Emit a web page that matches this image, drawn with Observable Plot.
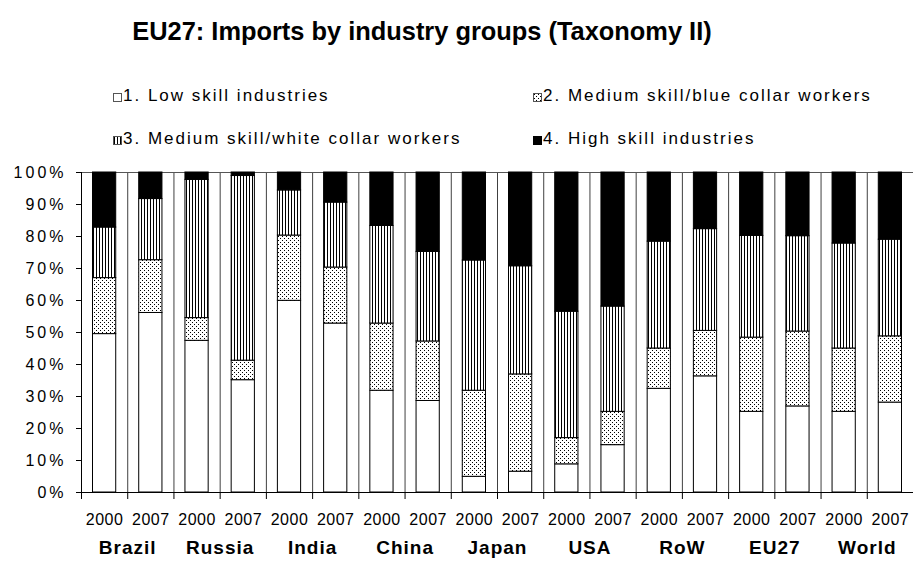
<!DOCTYPE html>
<html>
<head>
<meta charset="utf-8">
<script src="https://cdn.jsdelivr.net/npm/d3@7"></script>
<script src="https://cdn.jsdelivr.net/npm/@observablehq/plot@0.6"></script>
<style>
  body { margin: 0; background: #fff; font-family: "Liberation Sans", Arial, sans-serif; }
  svg { display: block; }
</style>
</head>
<body>
<svg width="0" height="0" style="position:absolute">
  <defs>
    <pattern id="dots" patternUnits="userSpaceOnUse" width="4" height="4">
      <rect width="4" height="4" fill="white"/>
      <rect x="0" y="0" width="1" height="1" fill="black"/>
      <rect x="2" y="2" width="1" height="1" fill="black"/>
    </pattern>
    <pattern id="vlines" patternUnits="userSpaceOnUse" width="3" height="3">
      <rect width="3" height="3" fill="white"/>
      <rect x="0" y="0" width="1" height="3" fill="black"/>
    </pattern>
  </defs>
</svg>
<div id="chart"></div>
<script>
// ---- data ----
const title = "EU27: Imports by industry groups (Taxonomy II)";
const countries = ["Brazil", "Russia", "India", "China", "Japan", "USA", "RoW", "EU27", "World"];
const years = ["2000", "2007"];
const groups = [
  "1. Low skill industries",
  "2. Medium skill/blue collar workers",
  "3. Medium skill/white collar workers",
  "4. High skill industries"
];
// one value per bar: Brazil 2000, Brazil 2007, Russia 2000, ... World 2007 (shares in %)
const lowSkill    = [49.5, 56.1, 47.4, 35.1, 59.9, 52.8, 31.8, 28.6,  4.9,  6.5,  8.8, 14.8, 32.4, 36.3, 25.2, 26.9, 25.2, 28.1];
const mediumBlue  = [17.5, 16.5,  7.1,  6.1, 20.4, 17.5, 21.0, 18.6, 26.9, 30.4,  8.2, 10.4, 12.6, 14.2, 23.2, 23.4, 19.8, 20.7];
const mediumWhite = [15.8, 19.1, 43.2, 57.7, 14.1, 20.3, 30.5, 28.0, 40.7, 33.8, 39.5, 32.9, 33.4, 31.8, 31.8, 29.8, 32.8, 30.2];
const highSkill   = [17.2,  8.3,  2.3,  1.1,  5.6,  9.4, 16.7, 24.8, 27.5, 29.3, 43.5, 41.9, 21.6, 17.7, 19.8, 19.9, 22.2, 21.0];
const yTicks = [0, 10, 20, 30, 40, 50, 60, 70, 80, 90, 100];
const groupFills = ["white", "url(#dots)", "url(#vlines)", "black"];

// ---- table built from the arrays ----
const seriesValues = [lowSkill, mediumBlue, mediumWhite, highSkill];
const bars = countries.flatMap((c, ci) => years.map((y, yi) => ({country: c, year: y, slot: ci * 2 + yi})));
const rows = bars.flatMap(b => groups.map((g, gi) => ({
  slot: b.slot, country: b.country, year: b.year, group: g, value: seriesValues[gi][b.slot]
})));

const FONT = "'Liberation Sans', Arial, Helvetica, sans-serif";
const chart = document.getElementById("chart");

// ---- header: title + legend ----
const header = d3.create("svg").attr("width", 913).attr("height", 150)
  .style("font-family", FONT);
header.append("text").attr("x", 422).attr("y", 40).attr("text-anchor", "middle")
  .attr("font-size", 25.4).attr("font-weight", "bold").text(title);
const legendPos = [[113, 93], [533, 93], [113, 136], [533, 136]];
groups.forEach((g, i) => {
  const [lx, ly] = legendPos[i];
  header.append("rect").attr("x", lx + 0.5).attr("y", ly + 0.5).attr("width", 8).attr("height", 8)
    .attr("fill", groupFills[i]).attr("stroke", i === 3 ? "black" : "#555").attr("stroke-width", 1);
  header.append("text").attr("x", lx + 10).attr("y", ly + 7.5).attr("font-size", 17)
    .attr("letter-spacing", 2).text(g);
});
chart.appendChild(header.node());

// ---- plot ----
const plot = Plot.plot({
  width: 913,
  height: 412,
  marginLeft: 81,
  marginRight: 0,
  marginTop: 22,
  marginBottom: 70,
  style: {fontFamily: FONT, fontSize: "16px", color: "black", background: "white", overflow: "visible"},
  x: {domain: [0, 18], axis: null, label: null},
  y: {domain: [0, 100], axis: null, label: null},
  color: {domain: groups, range: groupFills},
  marks: [
    Plot.ruleX(d3.range(1, 18), {stroke: "#404040", strokeWidth: 1}),
    Plot.ruleY([100], {stroke: "#555"}),
    Plot.rectY(rows, {
      x1: "slot", x2: d => d.slot + 1, y: "value", fill: "group",
      stroke: "black", strokeWidth: 1, insetLeft: 11.5, insetRight: 11.5
    }),
    Plot.axisY(yTicks, {tickSize: 5, tickPadding: 10, tickFormat: d => d + "%", fontSize: 16, label: null}),
    Plot.axisX(d3.range(0, 19), {tickSize: 7, tickFormat: () => "", label: null}),
    Plot.axisX(d3.range(18).map(i => i + 0.5), {
      tickSize: 0, tickPadding: 21, fontSize: 16, label: null,
      tickFormat: v => years[Math.floor(v) % 2]
    }),
    Plot.text(countries, {
      x: (d, i) => 2 * i + 1, frameAnchor: "bottom", dy: 61,
      fontWeight: "bold", fontSize: 19
    }),
    Plot.ruleX([0], {stroke: "black"}),
    Plot.ruleY([0], {stroke: "black"})
  ]
});
const ps = d3.select(plot);
ps.selectAll('g[aria-label="y-axis tick label"] text').attr("letter-spacing", 3);
ps.selectAll('g[aria-label="x-axis tick label"] text').attr("letter-spacing", 0.5);
ps.selectAll('g[aria-label="text"] text').attr("letter-spacing", 1);
chart.appendChild(plot);
</script>
</body>
</html>
